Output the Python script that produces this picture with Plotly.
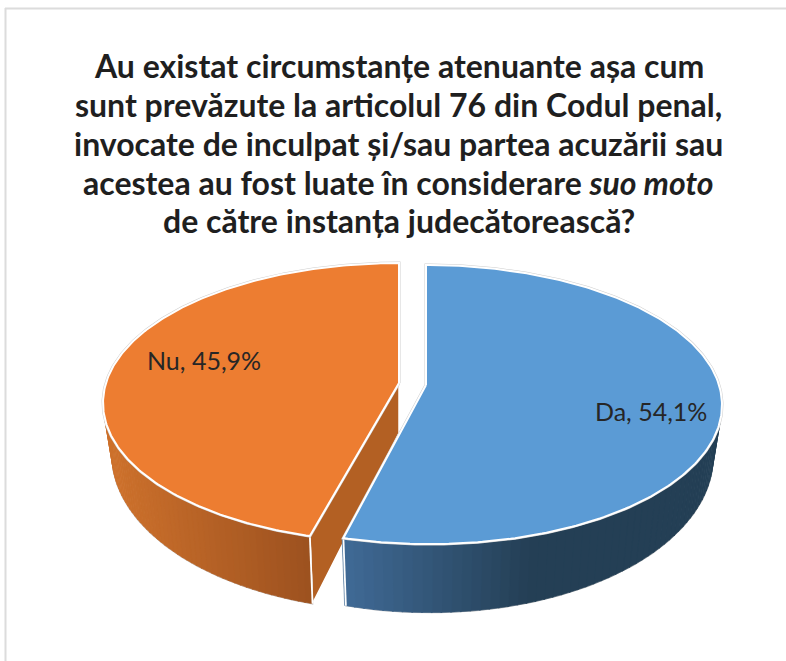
import numpy as np
import plotly.graph_objects as go

# --- data ---
categories = ["Da", "Nu"]
values = [54.1, 45.9]

title_lines = [
    "Au existat circumstanțe atenuante așa cum",
    "sunt prevăzute la articolul 76 din Codul penal,",
    "invocate de inculpat și/sau partea acuzării sau",
    "acestea au fost luate în considerare <i>suo moto</i>",
    "de către instanța judecătorească?",
]

# --- style / geometry of the tilted disc ---
W, H = 786, 661
top_colors = {"Da": "#5b9bd5", "Nu": "#ed7d31"}
side_left = {"Da": (64, 106, 150), "Nu": (205, 113, 44)}
side_right = {"Da": (36, 63, 85), "Nu": (156, 81, 31)}
ramp_x = {"Da": (343, 530), "Nu": (110, 311)}
inner_side = {"Da": "#3d6690", "Nu": "#b36023"}
apex = {"Da": (426, 385), "Nu": (399, 383)}
label_pos = {"Da": (651, 410.5), "Nu": (204, 359.5)}
title_y = [65, 104, 143, 182, 220.5]
skew = {"Da": 4.0, "Nu": -3.0}
PERSP, A, D = -0.14, 136.8, 293.0
DEPTH0, DEPTH_P, BOTTOM_SHRINK = 50.0, -0.27, 0.97


def top_pt(cat, th):
    cx, cy = apex[cat]
    u, v = np.sin(th), -np.cos(th)
    w = 1 + PERSP * v
    return cx + D * u / w + skew[cat] * np.clip(v, 0, 1) ** 2, cy + A * v / w


def bot_pt(cat, th):
    cx, _ = apex[cat]
    x, y = top_pt(cat, th)
    v = -np.cos(th)
    return cx + (x - cx) * BOTTOM_SHRINK, y + DEPTH0 / (1 + DEPTH_P * v)


fig = go.Figure()


def poly(xs, ys, fill, line="rgba(0,0,0,0)", width=0):
    fig.add_trace(go.Scatter(
        x=list(xs), y=list(ys), mode="lines", fill="toself", fillcolor=fill,
        line=dict(color=line, width=width), hoverinfo="skip", showlegend=False,
    ))


def mix(a, b, t):
    t = min(max(t, 0), 1)
    return "rgb(%d,%d,%d)" % tuple(round(p + (q - p) * t) for p, q in zip(a, b))


total = sum(values)
spans = {}
start = 0.0
for c, val in zip(categories, values):
    end = start + val / total * 2 * np.pi
    spans[c] = (start, end)
    start = end

for c in ["Nu", "Da"]:
    s, e = spans[c]
    cx, cy = apex[c]
    if c == "Nu":
        # radial wall that faces the viewer
        x0, y0 = top_pt(c, s)
        x1, y1 = bot_pt(c, s)
        poly([cx, x0, x1, cx, cx], [cy, y0, y1, cy + DEPTH0, cy], inner_side[c], "#ffffff", 1.5)
    # outer wall, only the front-facing arc
    a0 = max(s, np.radians(75))
    a1 = min(e, np.radians(285))
    # silhouette halo
    th = np.linspace(a0, a1, 160)
    bx, by = bot_pt(c, th)
    tx, ty = top_pt(c, th)
    poly(np.r_[tx, bx[::-1], tx[0]], np.r_[ty, by[::-1], ty[0]], "#ffffff", "#c8c8c8", 1.6)
    # gradient strips
    edges = np.linspace(a0, a1, 72)
    for t0, t1 in zip(edges[:-1], edges[1:]):
        ath = np.linspace(t0, t1 + 0.004, 4)
        tx, ty = top_pt(c, ath)
        bx, by = bot_pt(c, ath)
        xm = tx.mean()
        lo, hi = ramp_x[c]
        col = mix(side_left[c], side_right[c], (xm - lo) / (hi - lo))
        poly(np.r_[tx, bx[::-1], tx[0]], np.r_[ty, by[::-1], ty[0]], col, col, 0.6)
    # corner edge of the wall
    xa, ya = top_pt(c, e if c == "Da" else s)
    xb, yb = bot_pt(c, e if c == "Da" else s)
    fig.add_trace(go.Scatter(x=[xa, xb], y=[ya, yb], mode="lines",
                             line=dict(color="#ffffff", width=1.8),
                             hoverinfo="skip", showlegend=False))
    # top face
    th = np.linspace(s, e, 240)
    tx, ty = top_pt(c, th)
    poly(np.r_[cx, tx, cx], np.r_[cy, ty, cy], "rgba(0,0,0,0)", "#cfcfcf", 3.0)
    poly(np.r_[cx, tx, cx], np.r_[cy, ty, cy], top_colors[c], "#ffffff", 2.0)

for c, val in zip(categories, values):
    lx, ly = label_pos[c]
    fig.add_annotation(
        x=lx, y=ly, xref="x", yref="y", showarrow=False,
        text=f"{c}, {str(val).replace('.', ',')}%",
        font=dict(family="Lato", size=25, color="#262626"),
    )

for line, ty in zip(title_lines, title_y):
    fig.add_annotation(
        x=398.5, y=ty, xref="x", yref="y", showarrow=False,
        text=f"<b>{line}</b>",
        font=dict(family="Lato", size=32, color="#1f1f1f", weight=900),
    )

fig.update_layout(
    width=W, height=H, margin=dict(l=0, r=0, t=0, b=0),
    paper_bgcolor="#ffffff", plot_bgcolor="#ffffff", showlegend=False, hovermode=False,
    xaxis=dict(range=[0, W], visible=False, fixedrange=True),
    yaxis=dict(range=[H, 0], visible=False, fixedrange=True),
    shapes=[
        dict(type="line", xref="x", yref="y", x0=5, x1=W, y0=8.5, y1=8.5,
             line=dict(color="#dcdcdc", width=2)),
        dict(type="line", xref="x", yref="y", x0=5.5, x1=5.5, y0=8, y1=H,
             line=dict(color="#dcdcdc", width=2)),
    ],
)

fig.write_html("out.html", config={"displayModeBar": False},
               post_script="document.body.style.margin='0';document.documentElement.style.overflow='hidden';")
